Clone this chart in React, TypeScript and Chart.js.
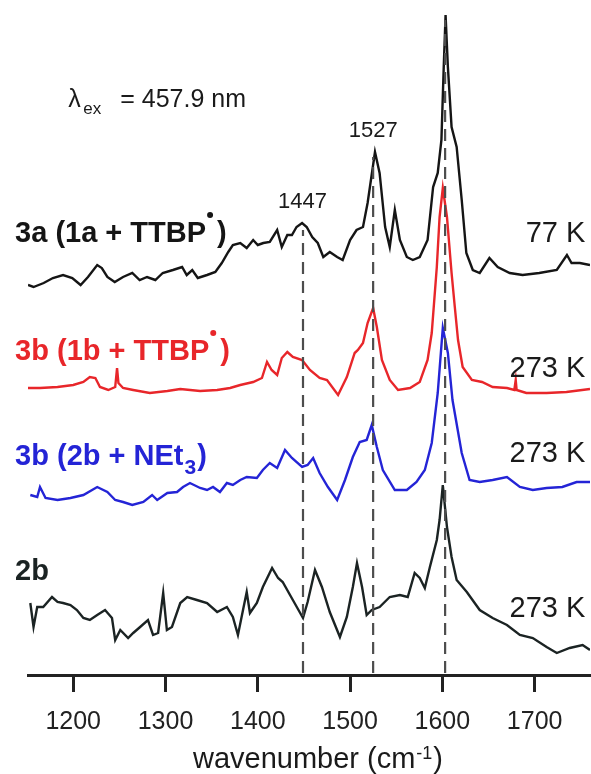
import React, { useEffect, useRef } from 'react';
import { Chart, registerables } from 'chart.js';

Chart.register(...registerables);

const FONT = '"Liberation Sans", Arial, Helvetica, sans-serif';

// x axis
const xMin = 1151;
const xMax = 1760;
const xTicks = [1200, 1300, 1400, 1500, 1600, 1700];

// 3a (1a + TTBP•), 77 K  (black)
const wn3a = [1151,1157,1168,1178,1189,1199,1208,1216,1226,1231,1237,1245,1254,1264,1272,1280,1289,1297,1308,1318,1323,1329,1335,1345,1354,1361,1368,1373,1381,1388,1395,1400,1406,1413,1421,1426,1432,1437,1442,1448,1453,1459,1465,1471,1478,1486,1492,1500,1507,1514,1519,1527,1532,1538,1543,1548.5,1554,1561.5,1568,1575.5,1584,1590,1595,1599,1601.5,1603.5,1606,1610,1615.5,1621,1626,1633,1640.5,1651,1660,1673,1687,1705,1724,1735,1740,1749,1760];
const int3a = [388,386,390,395,398,395,388,396,408,405,396,391,396,400,393,396,393,400,403,406,398,403,395,398,401,410,421,428,430,425,433,428,430,431,443,426,438,438,446,450,446,436,430,416,421,416,413,433,443,446,470,521,500,446,426,463,433,416,413,416,433,486,500,533,606,658,606,546,526,473,420,403,400,415,406,400,398,400,403,418,410,410,408];

// 3b (1b + TTBP•), 273 K (red)
const wnRed = [1151,1164,1183,1200,1211,1218,1224,1229,1238,1245.5,1247.5,1249,1254,1265,1283,1302,1316,1337.5,1356,1370,1381,1395,1404.5,1410,1415,1421,1426,1432,1438,1448,1456.5,1467,1475,1487,1496.5,1505,1508.5,1514,1519,1525,1529,1534.5,1543,1552,1565,1575.5,1584,1588.5,1594,1597,1600.5,1605,1610,1613.5,1617,1622,1632,1643,1654.5,1670,1678,1679.5,1680.5,1691,1713,1734.5,1760];
const intRed = [285,285,286,288,291,296,295,286,283,286,305,290,285,283,280,282,284,282,283,285,288,291,295,311,303,298,315,321,316,313,303,295,293,278,296,320,323,330,350,365,346,313,293,283,285,291,313,340,406,456,485,456,400,366,333,306,293,291,286,285,283,293,283,280,280,281,284];

// 3b (2b + NEt3), 273 K (blue)
const wnBlue = [1153.5,1161,1164,1170,1183,1197,1211,1226,1237,1245.5,1254,1264,1276,1285.5,1291,1302,1312.5,1319,1326.5,1337.5,1345,1351.5,1359,1366.5,1373,1381,1388,1399,1405.5,1413,1421,1429.5,1437,1448,1454,1460,1467,1476,1486,1494.5,1503,1510.5,1518,1523.5,1529,1535.5,1548.5,1561.5,1572,1581,1588.5,1595,1600.5,1606,1611,1621,1629.5,1640.5,1654.5,1670,1684,1698,1713,1730,1745.5,1760];
const intBlue = [178,176,186,175,173,175,178,186,181,173,171,168,171,178,173,180,181,186,190,185,183,186,181,190,188,193,196,195,203,210,205,223,215,206,208,215,200,186,173,193,216,231,233,248,226,203,183,183,191,203,230,280,345,320,273,220,193,191,193,196,186,183,185,186,191,191];

// 2b, 273 K (dark)
const wn2b = [1153.5,1157,1161,1167.5,1177,1183,1189,1197,1204,1211,1218,1226,1234.5,1242,1245.5,1251,1259.5,1265,1272.5,1281,1286.5,1292,1297.5,1301.5,1307,1316,1323.5,1334,1345,1356,1366.5,1373,1378.5,1384,1388,1391.5,1399,1405.5,1415.5,1422,1427,1438,1449,1454,1462,1469.5,1478,1489,1496.5,1503,1507.5,1513,1518,1523.5,1532,1543,1554,1562.5,1570,1575.5,1581,1586.5,1594,1597,1600.5,1605,1610,1615.5,1626.5,1640.5,1654.5,1670,1684,1698,1713,1724,1738,1752,1760];
const int2b = [70,46,66,66,76,71,70,68,63,55,53,58,63,55,33,43,35,40,46,53,38,40,80,43,46,70,76,73,70,61,66,56,38,63,81,60,70,86,105,95,91,73,55,71,103,86,61,36,56,86,110,86,58,63,66,76,78,76,100,95,85,106,133,153,188,146,116,93,81,63,55,48,38,35,26,20,25,28,23];

// dashed marker lines
const dashWn = [1449, 1525, 1603];
const dashTop = [443, 516, 653];

// text
const peakLabels = ['1447', '1527'];
const peakLabelWn = [1448.4, 1525.2];
const peakLabelY = [465, 536];
const tempLabels = ['77 K', '273 K', '273 K', '273 K'];
const labelBaseY = [431, 313, 208, 93];
const tempBaseY = [431, 296, 211, 56];
const seriesColors = ['#151515', '#e8262a', '#2424d6', '#1b2323'];
const excitation = ['λ', 'ex', '= 457.9 nm'];
const axisTitle = ['wavenumber (cm', '-1', ')'];

const zip = (xs: number[], ys: number[]) => xs.map((x, i) => ({ x, y: ys[i] }));

const textPlugin = {
  id: 'annotText',
  afterDraw(chart: any) {
    const ctx: CanvasRenderingContext2D = chart.ctx;
    const X = (v: number) => chart.scales.x.getPixelForValue(v);
    const Y = (v: number) => chart.scales.y.getPixelForValue(v);
    ctx.save();
    ctx.textBaseline = 'alphabetic';

    // excitation wavelength
    ctx.fillStyle = '#1a1a1a';
    ctx.textAlign = 'left';
    const lx = X(1194.6);
    const ly = Y(566);
    ctx.font = `25px ${FONT}`;
    ctx.fillText(excitation[0], lx, ly);
    ctx.font = `17px ${FONT}`;
    ctx.fillText(excitation[1], lx + 15, ly + 7);
    ctx.font = `25px ${FONT}`;
    ctx.fillText(excitation[2], lx + 52, ly);

    // peak labels
    ctx.textAlign = 'center';
    ctx.font = `22px ${FONT}`;
    peakLabels.forEach((t, i) => ctx.fillText(t, X(peakLabelWn[i]), Y(peakLabelY[i])));

    // temperature labels
    ctx.textAlign = 'right';
    ctx.font = `29px ${FONT}`;
    tempLabels.forEach((t, i) => ctx.fillText(t, X(1755), Y(tempBaseY[i])));

    // series labels
    ctx.textAlign = 'left';
    const sx = X(1137);
    const bold = `bold 29px ${FONT}`;
    const drawRadical = (main: string, tail: string, by: number, color: string) => {
      ctx.fillStyle = color;
      ctx.font = bold;
      ctx.fillText(main, sx, by);
      const w = ctx.measureText(main).width;
      ctx.beginPath();
      ctx.arc(sx + w + 4, by - 27, 3, 0, Math.PI * 2);
      ctx.fill();
      ctx.fillText(tail, sx + w + 11, by);
    };
    drawRadical('3a (1a + TTBP', ')', Y(labelBaseY[0]), seriesColors[0]);
    drawRadical('3b (1b + TTBP', ')', Y(labelBaseY[1]), seriesColors[1]);
    {
      const by = Y(labelBaseY[2]);
      ctx.fillStyle = seriesColors[2];
      ctx.font = bold;
      const m = '3b (2b + NEt';
      ctx.fillText(m, sx, by);
      const w = ctx.measureText(m).width;
      ctx.font = `bold 21px ${FONT}`;
      ctx.fillText('3', sx + w + 1, by + 9);
      const w3 = ctx.measureText('3').width;
      ctx.font = bold;
      ctx.fillText(')', sx + w + w3 + 2, by);
    }
    ctx.fillStyle = seriesColors[3];
    ctx.font = bold;
    ctx.fillText('2b', sx, Y(labelBaseY[3]));

    // axis title
    ctx.fillStyle = '#1a1a1a';
    ctx.font = `29px ${FONT}`;
    const w1 = ctx.measureText(axisTitle[0]).width;
    ctx.font = `18px ${FONT}`;
    const w2 = ctx.measureText(axisTitle[1]).width;
    ctx.font = `29px ${FONT}`;
    const w3 = ctx.measureText(axisTitle[2]).width;
    const total = w1 + w2 + w3 + 2;
    const cx = (chart.chartArea.left + chart.chartArea.right) / 2 + 9;
    const tx = cx - total / 2;
    const ty = 768;
    ctx.fillText(axisTitle[0], tx, ty);
    ctx.font = `18px ${FONT}`;
    ctx.fillText(axisTitle[1], tx + w1 + 1, ty - 9);
    ctx.font = `29px ${FONT}`;
    ctx.fillText(axisTitle[2], tx + w1 + w2 + 2, ty);
    ctx.restore();
  },
};

export default function App() {
  const ref = useRef<HTMLCanvasElement>(null);
  useEffect(() => {
    if (!ref.current) return;
    const traces = [
      { d: zip(wn3a, int3a), c: seriesColors[0] },
      { d: zip(wnRed, intRed), c: seriesColors[1] },
      { d: zip(wnBlue, intBlue), c: seriesColors[2] },
      { d: zip(wn2b, int2b), c: seriesColors[3] },
    ];
    const datasets: any[] = [];
    dashWn.forEach((x, i) => {
      datasets.push({
        data: [{ x, y: 0 }, { x, y: dashTop[i] }],
        borderColor: '#4d4d4d',
        borderWidth: 2.2,
        borderDash: [12, 7],
        pointRadius: 0,
        order: 0,
      });
    });
    traces.forEach((t) => {
      datasets.push({
        data: t.d,
        borderColor: t.c,
        borderWidth: 2.4,
        pointRadius: 0,
        tension: 0,
        order: 1,
      });
    });
    const chart = new Chart(ref.current, {
      type: 'line',
      data: { datasets },
      options: {
        responsive: false,
        animation: false,
        layout: { padding: { left: 28, right: 1, top: 13, bottom: 22 } },
        plugins: { legend: { display: false }, tooltip: { enabled: false } },
        scales: {
          x: {
            type: 'linear',
            min: xMin,
            max: xMax,
            afterBuildTicks: (scale: any) => {
              scale.ticks = xTicks.map((v) => ({ value: v }));
            },
            border: { display: true, color: '#222', width: 3 },
            grid: {
              display: true,
              drawOnChartArea: false,
              drawTicks: true,
              tickLength: 17,
              tickWidth: 3,
              tickColor: '#222',
            },
            ticks: {
              font: { family: FONT, size: 25 },
              color: '#222',
              padding: 15,
              maxRotation: 0,
              autoSkip: false,
              callback: (v: any) => String(v),
            },
          },
          y: { type: 'linear', display: false, min: -2, max: 660 },
        },
      },
      plugins: [textPlugin],
    });
    return () => chart.destroy();
  }, []);
  return (
    <div style={{ position: 'absolute', left: 0, top: 0, width: 591, height: 774, background: '#fff' }}>
      <canvas ref={ref} width={591} height={774} style={{ display: 'block' }} />
    </div>
  );
}
